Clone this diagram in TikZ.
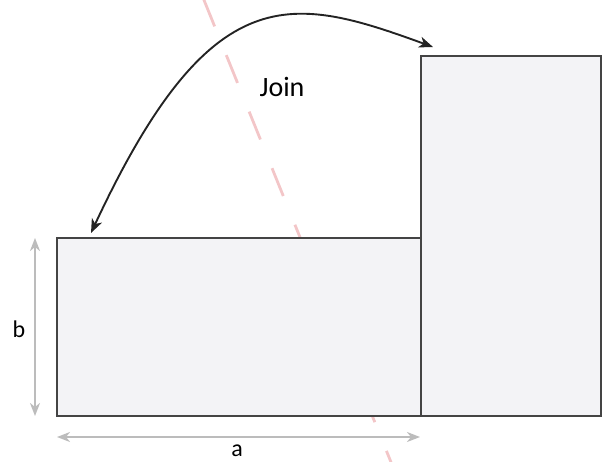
\documentclass[tikz,border=0pt]{standalone}
\usepackage{fontspec}
\setmainfont{Carlito}
\usetikzlibrary{arrows.meta}
\definecolor{panelfill}{RGB}{243,243,246}
\definecolor{paneledge}{RGB}{68,68,68}
\definecolor{dimgray}{RGB}{188,188,188}
\definecolor{cutpink}{RGB}{243,198,200}
\definecolor{joinblack}{RGB}{35,35,35}
\tikzset{
  panel/.style={draw=paneledge, fill=panelfill, line width=2pt},
  dimline/.style={draw=dimgray, line width=2.2pt, {Stealth[length=13pt,width=10pt,inset=4pt]}-{Stealth[length=13pt,width=10pt,inset=4pt]}},
  joinarrow/.style={draw=joinblack, line width=1.9pt, {Stealth[length=14pt,width=11pt,inset=4pt]}-{Stealth[length=14pt,width=11pt,inset=4pt]}},
  cutline/.style={draw=cutpink, line width=2.8pt, dash pattern=on 30pt off 31pt},
  lbl/.style={anchor=base, inner sep=0pt, font=\fontsize{24}{29}\selectfont}
}

\begin{document}
\begin{tikzpicture}[x=1pt,y=1pt]
  \useasboundingbox (0,0) rectangle (605,-461);

  % cut line (behind the panels)
  \coordinate (cutTop) at (180.5,58);
  \coordinate (cutBot) at (414,-519);
  \draw[cutline] (cutTop) -- (cutBot);

  % panels
  \coordinate (shortSW) at (57,-416);
  \coordinate (shortNE) at (421,-238);
  \coordinate (tallSW) at (421,-416);
  \coordinate (tallNE) at (601,-56);
  \draw[panel] (shortSW) rectangle (shortNE);
  \draw[panel] (tallSW) rectangle (tallNE);

  % dimensions
  \coordinate (bTop) at (35,-238);
  \coordinate (bBot) at (35,-416);
  \coordinate (aLeft) at (57,-437);
  \coordinate (aRight) at (420,-437);
  \draw[dimline] (bTop) -- (bBot);
  \draw[dimline] (aLeft) -- (aRight);
  \node[lbl] (bLabel) at (19,-337.5) {b};
  \node[lbl] (aLabel) at (237,-456.5) {a};

  % join arrow
  \coordinate (joinL) at (91,-233);
  \coordinate (joinR) at (433,-47);
  \draw[joinarrow] (joinL) to[out=65, in=160, out distance=285pt, in distance=150pt] (joinR);
  \node[lbl, font=\fontsize{28}{33}\selectfont] (joinLabel) at (282,-96.5) {Join};
\end{tikzpicture}
\end{document}
